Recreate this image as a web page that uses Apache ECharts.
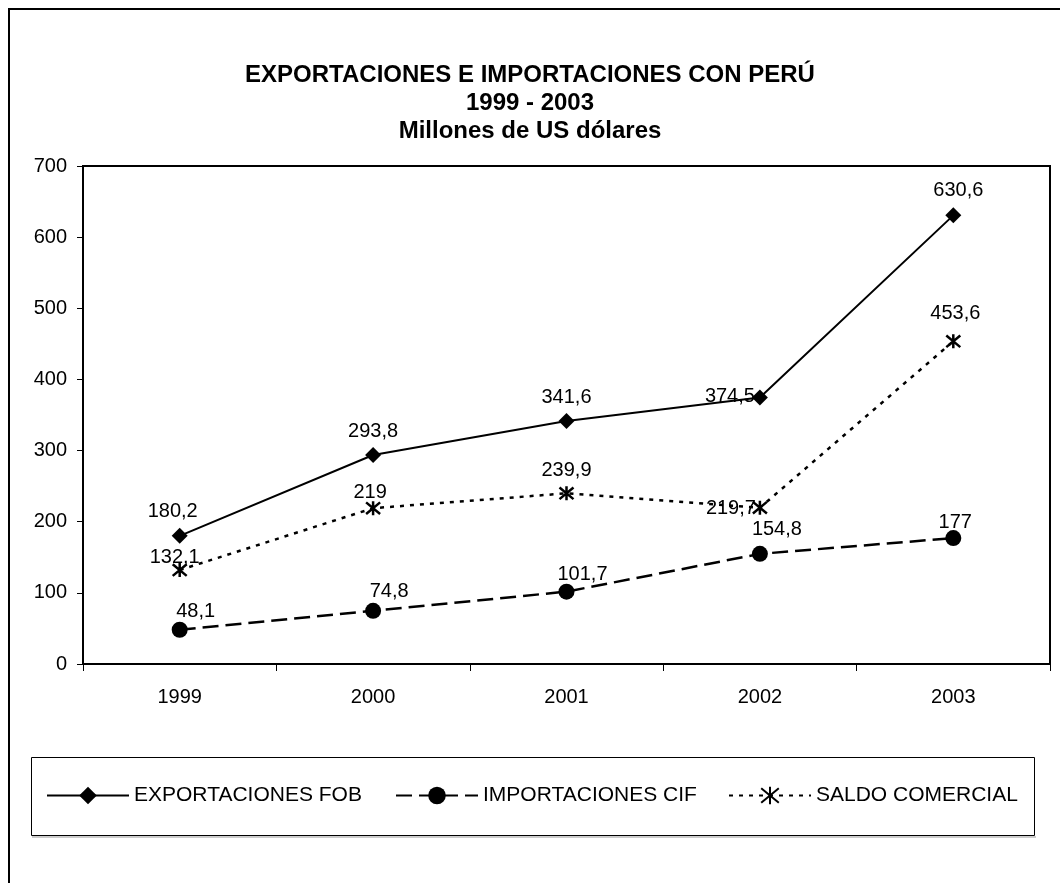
<!DOCTYPE html>
<html>
<head>
<meta charset="utf-8">
<script src="https://cdn.jsdelivr.net/npm/echarts@6/dist/echarts.min.js"></script>
<style>
html, body { margin: 0; padding: 0; background: #fff; }
#chart { width: 1060px; height: 883px; }
</style>
</head>
<body>
<div id="chart"></div>
<script>
var years = ['1999', '2000', '2001', '2002', '2003'];
var exportaciones = [180.2, 293.8, 341.6, 374.5, 630.6];
var importaciones = [48.1, 74.8, 101.7, 154.8, 177];
var saldo = [132.1, 219, 239.9, 219.7, 453.6];
var yTicks = [0, 100, 200, 300, 400, 500, 600, 700];

var FONT = '"Liberation Sans", Arial, sans-serif';
var asterisk = 'path://M0,0L10,10M10,0L0,10M5,-1L5,11';

// label nudges (dx, dy from the marker centre)
function withLabels(values, nudges) {
	return values.map(function(v, i) {
		return { value: v, label: { offset: nudges[i] } };
	});
}

function fmt(p) {
	return String(p.value).replace('.', ',');
}

var myChart = echarts.init(document.getElementById('chart'));
var option = {
	animation: false,
	backgroundColor: '#fff',
	textStyle: { fontFamily: FONT, color: '#000' },
	title: {
		text: 'EXPORTACIONES E IMPORTACIONES CON PERÚ\n1999 - 2003\nMillones de US dólares',
		left: 'center',
		top: 56,
		textStyle: { fontFamily: FONT, fontSize: 24, fontWeight: 'bold', color: '#000', lineHeight: 28 }
	},
	grid: {
		left: 83, right: 10, top: 166, bottom: 219,
		show: true, borderColor: '#000', borderWidth: 2
	},
	legend: [
		{ data: ['EXPORTACIONES FOB'], left: 46 },
		{ data: ['IMPORTACIONES CIF'], left: 395 },
		{ data: ['SALDO COMERCIAL'], left: 728 }
	].map(function(l) {
		l.top = 785;
		l.padding = 0;
		l.itemWidth = 82;
		l.itemHeight = 22;
		l.itemGap = 5;
		l.textStyle = { fontFamily: FONT, fontSize: 21, color: '#000' };
		return l;
	}),
	xAxis: {
		type: 'category',
		data: years,
		boundaryGap: true,
		axisLine: { lineStyle: { color: '#000', width: 2 } },
		axisTick: { show: true, length: 7, lineStyle: { color: '#000', width: 1 } },
		axisLabel: { color: '#000', fontFamily: FONT, fontSize: 20, margin: 23 }
	},
	yAxis: {
		type: 'value',
		min: yTicks[0],
		max: yTicks[yTicks.length - 1],
		interval: 100,
		splitLine: { show: false },
		axisLine: { show: true, lineStyle: { color: '#000', width: 2 } },
		axisTick: { show: true, length: 6, lineStyle: { color: '#000', width: 1 } },
		axisLabel: { color: '#000', fontFamily: FONT, fontSize: 20, margin: 16 }
	},
	graphic: [
		{ type: 'rect', shape: { x: 9, y: 9, width: 1100, height: 1000 }, style: { fill: 'none', stroke: '#000', lineWidth: 2 }, silent: true },
		{ type: 'rect', shape: { x: 31.5, y: 757.5, width: 1003, height: 78 }, style: { fill: 'none', stroke: '#000', lineWidth: 1 }, silent: true },
		{ type: 'line', shape: { x1: 32, y1: 837, x2: 1036, y2: 837 }, style: { stroke: '#999', lineWidth: 1 }, silent: true }
	],
	series: [
		{
			name: 'EXPORTACIONES FOB',
			type: 'line',
			data: withLabels(exportaciones, [[-7, -24], [0, -23], [0, -23], [-30, -1], [5, -25]]),
			symbol: 'diamond',
			symbolSize: 16,
			lineStyle: { color: '#000', width: 2 },
			itemStyle: { color: '#000' },
			label: { show: true, position: 'inside', formatter: fmt, color: '#000', fontFamily: FONT, fontSize: 20 },
			z: 3
		},
		{
			name: 'IMPORTACIONES CIF',
			type: 'line',
			data: withLabels(importaciones, [[16, -18], [16, -19], [16, -17], [17, -24], [2, -16]]),
			symbol: 'circle',
			symbolSize: 16,
			lineStyle: { color: '#000', width: 2.5, type: [16, 7] },
			itemStyle: { color: '#000' },
			label: { show: true, position: 'inside', formatter: fmt, color: '#000', fontFamily: FONT, fontSize: 20 },
			z: 3
		},
		{
			name: 'SALDO COMERCIAL',
			type: 'line',
			data: withLabels(saldo, [[-5, -13], [-3, -16], [0, -23], [-29, 1], [2, -28]]),
			symbol: asterisk,
			symbolSize: 14,
			lineStyle: { color: '#000', width: 2.5, type: [4, 6] },
			itemStyle: { color: '#000', borderColor: '#000', borderWidth: 2.5 },
			label: { show: true, position: 'inside', formatter: fmt, color: '#000', fontFamily: FONT, fontSize: 20 },
			z: 3
		}
	]
};
myChart.setOption(option);
</script>
</body>
</html>
